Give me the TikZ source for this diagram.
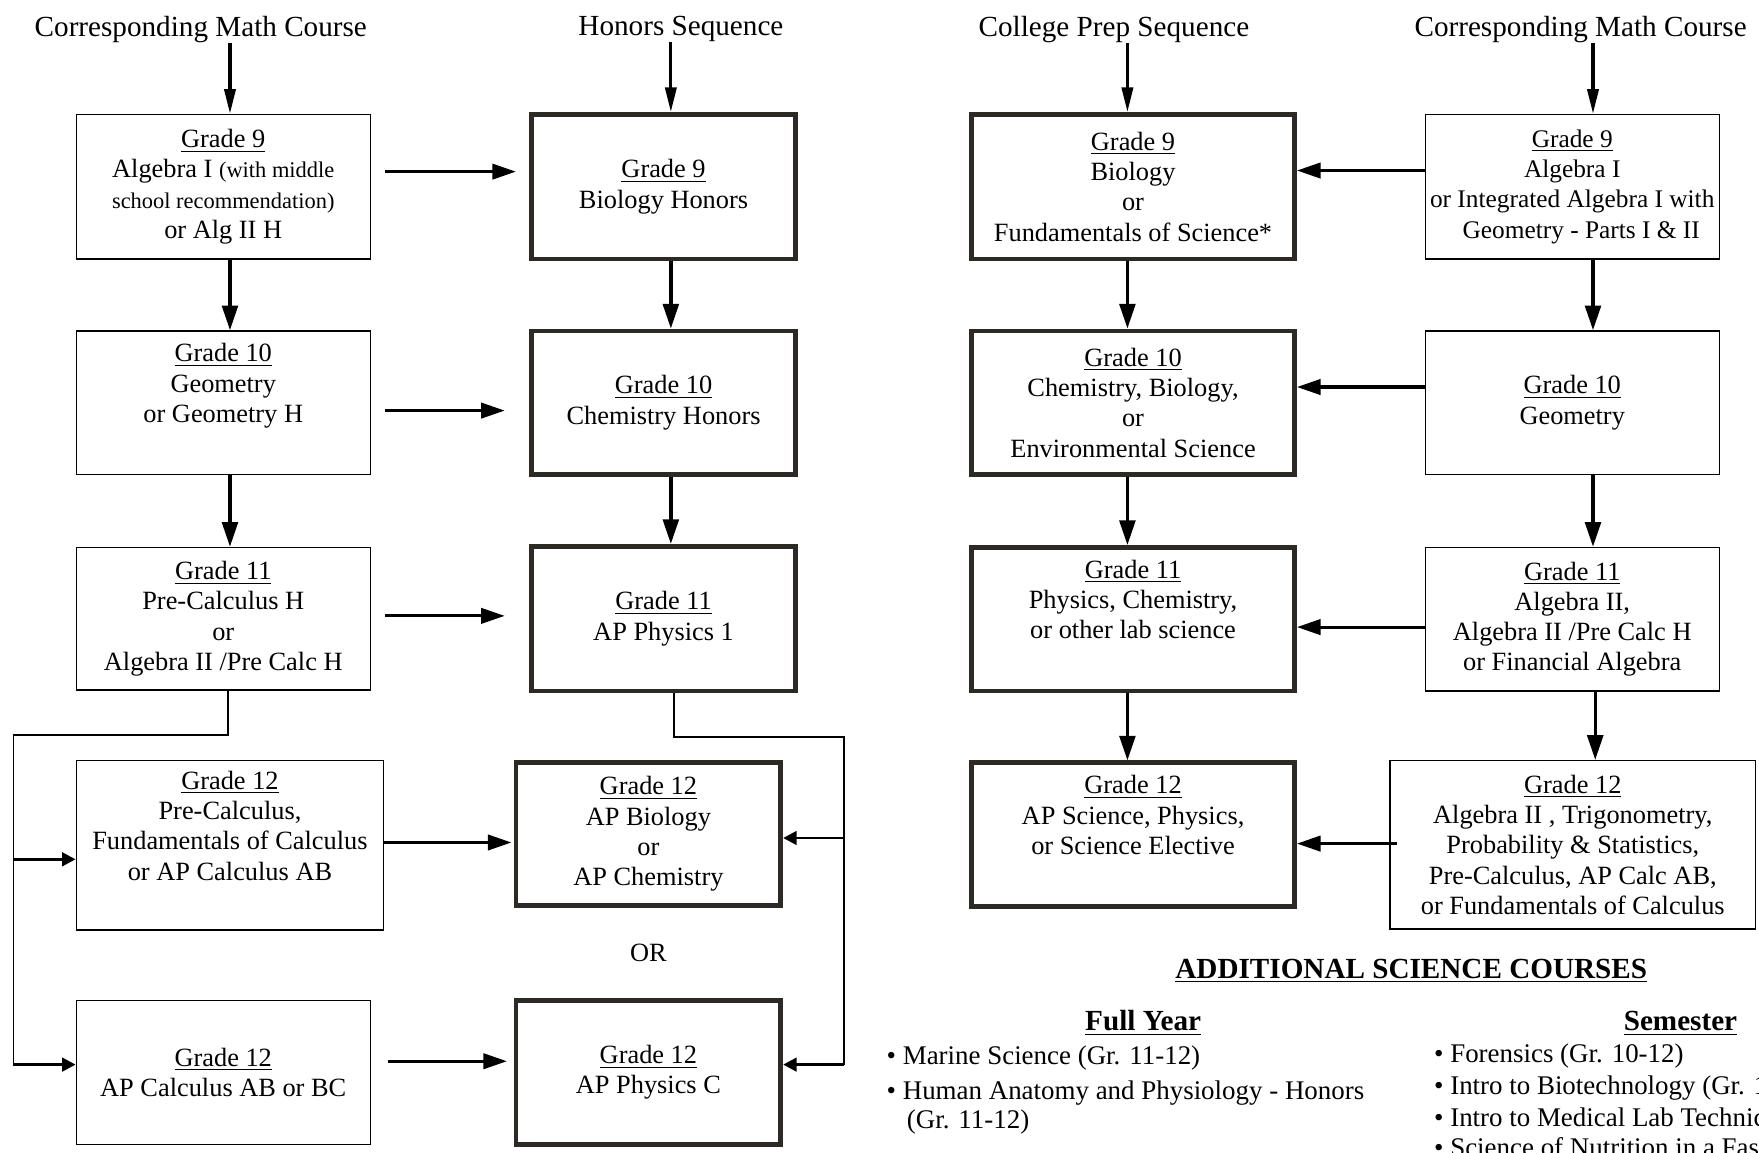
\documentclass[tikz,border=0pt]{standalone}
\usepackage{fontspec}
\setmainfont{Liberation Serif}
\usetikzlibrary{arrows.meta}
\definecolor{framedark}{HTML}{2D2A25}
\newcommand{\gradeul}[1]{\underline{#1}}
\newcommand{\smalltxt}{\fontsize{10}{13.5}\selectfont}
\begin{document}
\begin{tikzpicture}[x=0.5pt,y=-0.5pt,
  boxtext/.style={align=center, inner sep=0pt, font=\fontsize{11.75}{13.5}\selectfont},
  mathbox/.style={boxtext, draw=black, line width=0.6pt},
  scibox/.style={boxtext, draw=framedark, line width=2.1pt},
  colhead/.style={inner sep=0pt, font=\fontsize{13}{15}\selectfont},
  toparrow/.style={line width=1.4pt, -{Triangle[length=11pt,width=5pt]}},
  flowarrow/.style={line width=1.5pt, -{Triangle[length=11pt,width=7pt]}},
  sidearrow/.style={line width=1.4pt, -{Triangle[length=10.5pt,width=6.8pt]}},
  busline/.style={line width=0.8pt},
  busarrow/.style={line width=1.3pt, -{Triangle[length=6pt,width=6pt]}},
  listitem/.style={anchor=base west, inner sep=0pt, font=\fontsize{12}{14}\selectfont},
  listhead/.style={anchor=base, inner sep=0pt, font=\fontsize{13}{15}\bfseries\selectfont}
]
\useasboundingbox (0,0) rectangle (1568,1027);
\clip (0,0) rectangle (1568,1027);

% column headers
\node[colhead] (hd1) at (179,26) {Corresponding Math Course};
\node[colhead] (hd2) at (607,26) {Honors Sequence};
\node[colhead] (hd3) at (993,26) {College Prep Sequence};
\node[colhead] (hd4) at (1409,26) {Corresponding Math Course};

% left math column
\node[mathbox, minimum width=131pt, minimum height=64.5pt] (lm9) at (199,166.5)
  {\gradeul{Grade 9}\\Algebra I {\smalltxt(with middle}\\{\smalltxt school recommendation)}\\or Alg II H};
\node[mathbox, minimum width=131pt, minimum height=64pt] (lm10) at (199,359)
  {\gradeul{Grade 10}\\Geometry\\or Geometry H\\\strut};
\node[mathbox, minimum width=131pt, minimum height=63.5pt] (lm11) at (199,551.5)
  {\gradeul{Grade 11}\\Pre-Calculus H\\or\\Algebra II /Pre Calc H};
\node[mathbox, minimum width=137pt, minimum height=75.5pt] (lm12a) at (205,753.5)
  {\gradeul{Grade 12}\\Pre-Calculus,\\Fundamentals of Calculus\\or AP Calculus AB\\\strut};
\node[mathbox, minimum width=131pt, minimum height=64pt] (lm12b) at (199,956)
  {\gradeul{Grade 12}\\AP Calculus AB or BC};

% honors column
\node[scibox, minimum width=117.5pt, minimum height=64.5pt] (h9) at (591.5,166.5)
  {\gradeul{Grade 9}\\Biology Honors};
\node[scibox, minimum width=117.5pt, minimum height=64pt] (h10) at (591.5,359)
  {\gradeul{Grade 10}\\Chemistry Honors};
\node[scibox, minimum width=117.5pt, minimum height=64.5pt] (h11) at (591.5,551.5)
  {\gradeul{Grade 11}\\AP Physics 1};
\node[scibox, minimum width=118pt, minimum height=63.5pt] (h12a) at (578,743.5)
  {\gradeul{Grade 12}\\AP Biology\\or\\AP Chemistry};
\node[scibox, minimum width=118pt, minimum height=64pt] (h12b) at (578,956)
  {\gradeul{Grade 12}\\AP Physics C};
\node[boxtext] (ornode) at (578,849) {OR};

% college prep column
\node[scibox, minimum width=144pt, minimum height=64.5pt] (c9) at (1010,166.5)
  {\gradeul{Grade 9}\\Biology\\or\\Fundamentals of Science*};
\node[scibox, minimum width=144pt, minimum height=64pt] (c10) at (1010,359)
  {\gradeul{Grade 10}\\Chemistry, Biology,\\or\\Environmental Science};
\node[scibox, minimum width=144pt, minimum height=64pt] (c11) at (1010,552)
  {\gradeul{Grade 11}\\Physics, Chemistry,\\or other lab science\\\strut};
\node[scibox, minimum width=144pt, minimum height=64pt] (c12) at (1010,744)
  {\gradeul{Grade 12}\\AP Science, Physics,\\or Science Elective\\\strut};

% right math column
\node[mathbox, minimum width=131pt, minimum height=64.5pt, font=\fontsize{11.3}{13.5}\selectfont] (r9) at (1401.5,166.5)
  {\gradeul{Grade 9}\\Algebra I\\or Integrated Algebra I with\\\hspace*{8pt}Geometry - Parts I \& II};
\node[mathbox, minimum width=131pt, minimum height=64pt] (r10) at (1401.5,359)
  {\gradeul{Grade 10}\\Geometry};
\node[mathbox, minimum width=131pt, minimum height=64pt] (r11) at (1401.5,552)
  {\gradeul{Grade 11}\\Algebra II,\\Algebra II /Pre Calc H\\or Financial Algebra};
\node[mathbox, minimum width=163pt, minimum height=75pt] (r12) at (1402,753)
  {\gradeul{Grade 12}\\Algebra II , Trigonometry,\\Probability \& Statistics,\\Pre-Calculus, AP Calc AB,\\or Fundamentals of Calculus};

% header arrows
\draw[toparrow] ([xshift=3pt]lm9.north |- hd1.south) -- ([xshift=3pt]lm9.north);
\draw[toparrow] ([xshift=3.25pt]h9.north |- hd2.south) -- ([xshift=3.25pt]h9.north);
\draw[toparrow] ([xshift=-2.5pt]c9.north |- hd3.south) -- ([xshift=-2.5pt]c9.north);
\draw[toparrow] ([xshift=9.25pt]r9.north |- hd4.south) -- ([xshift=9.25pt]r9.north);

% vertical arrows
\draw[flowarrow] ([xshift=3pt]lm9.south) -- ([xshift=3pt]lm10.north);
\draw[flowarrow] ([xshift=3pt]lm10.south) -- ([xshift=3pt]lm11.north);
\draw[flowarrow] ([xshift=3.25pt]h9.south) -- ([xshift=3.25pt]h10.north);
\draw[flowarrow] ([xshift=3.25pt]h10.south) -- ([xshift=3.25pt]h11.north);
\draw[flowarrow] ([xshift=-2.5pt]c9.south) -- ([xshift=-2.5pt]c10.north);
\draw[flowarrow] ([xshift=-2.5pt]c10.south) -- ([xshift=-2.5pt]c11.north);
\draw[flowarrow] ([xshift=-2.5pt]c11.south) -- ([xshift=-2.5pt]c12.north);
\draw[flowarrow] ([xshift=9.25pt]r9.south) -- ([xshift=9.25pt]r10.north);
\draw[flowarrow] ([xshift=9.25pt]r10.south) -- ([xshift=9.25pt]r11.north);
\draw[flowarrow] ([xshift=10.25pt]r11.south) -- ([xshift=10.25pt]r11.south |- r12.north);

% arrow start points
\path ([xshift=6.5pt,yshift=6.75pt]lm9.east) coordinate (a9s);
\path ([xshift=6.5pt,yshift=-3.5pt]lm10.east) coordinate (a10s);
\path ([xshift=6.5pt,yshift=1.25pt]lm11.east) coordinate (a11s);
\path ([yshift=1.25pt]lm12a.east) coordinate (a12as);
\path ([xshift=7.5pt,yshift=5pt]lm12b.east) coordinate (a12bs);
\path ([yshift=7.25pt]r9.west) coordinate (b9s);
\path ([yshift=7pt]r10.west) coordinate (b10s);
\path ([yshift=-3.5pt]r11.west) coordinate (b11s);
\path ([xshift=3.5pt,yshift=0.5pt]r12.west) coordinate (b12s);

% left math -> honors
\draw[sidearrow] (a9s) -- ([xshift=-6pt]a9s -| h9.west);
\draw[sidearrow] (a10s) -- ([xshift=-11pt]a10s -| h10.west);
\draw[sidearrow] (a11s) -- ([xshift=-11pt]a11s -| h11.west);
\draw[sidearrow] (a12as) -- ([xshift=-1pt]a12as -| h12a.west);
\draw[sidearrow] (a12bs) -- ([xshift=-3pt]a12bs -| h12b.west);

% right math -> college prep
\draw[sidearrow] (b9s) -- (b9s -| c9.east);
\draw[sidearrow] (b10s) -- (b10s -| c10.east);
\draw[sidearrow] (b11s) -- (b11s -| c11.east);
\draw[sidearrow] (b12s) -- (b12s -| c12.east);

% left bus from Grade 11 math
\coordinate (lbtop) at (12,655);
\coordinate (lbA) at (12,766);
\coordinate (lbB) at (12,949);
\draw[busline] ([xshift=2pt]lm11.south) |- (lbtop) -- (lbB);
\draw[busarrow] (lbA) -- (lbA -| lm12a.west);
\draw[busarrow] (lbB) -- (lbB -| lm12b.west);

% right bus from AP Physics 1
\coordinate (rbtop) at (752,657);
\coordinate (rbA) at (752,747);
\coordinate (rbB) at (752,949);
\draw[busline] ([xshift=4.75pt]h11.south) |- (rbtop) -- (rbB);
\draw[busarrow] (rbA) -- (rbA -| h12a.east);
\draw[busarrow] (rbB) -- (rbB -| h12b.east);

% additional courses
\node[listhead] (addh) at (1258,872) {\underline{ADDITIONAL SCIENCE COURSES}};
\node[listhead] (fullh) at (1019,919) {\underline{Full Year}};
\node[listhead] (semh) at (1498,919) {\underline{Semester}};
\node[listitem] (f1) at (790,949) {\textbullet\ Marine Science (Gr. 11-12)};
\node[listitem] (f2) at (790,980) {\textbullet\ Human Anatomy and Physiology - Honors};
\node[listitem] (f3) at (808,1006) {(Gr. 11-12)};
\node[listitem] (s1) at (1278,947) {\textbullet\ Forensics (Gr. 10-12)};
\node[listitem] (s2) at (1278,976) {\textbullet\ Intro to Biotechnology (Gr. 1};
\node[listitem] (s3) at (1278,1004) {\textbullet\ Intro to Medical Lab Technic};
\node[listitem] (s4) at (1278,1031) {\textbullet\ Science of Nutrition in a Fas};
\end{tikzpicture}
\end{document}
